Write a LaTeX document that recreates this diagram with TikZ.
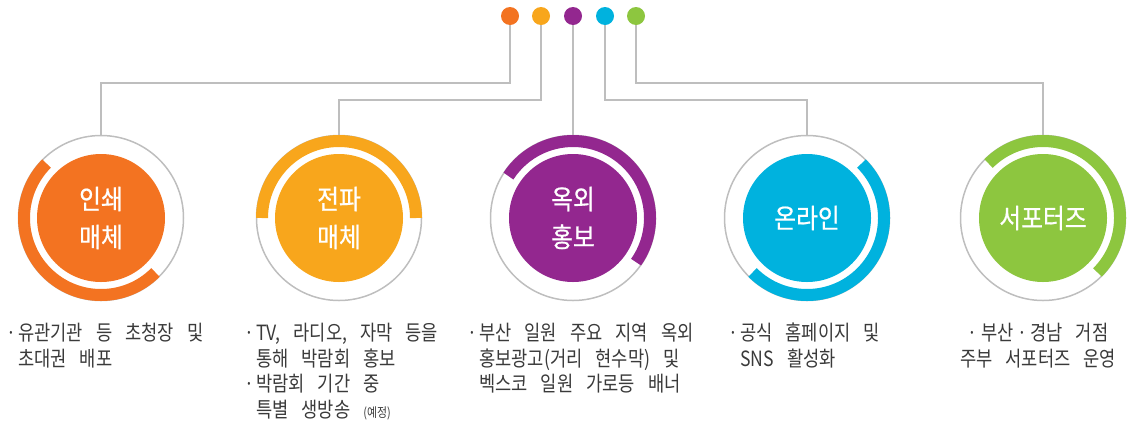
\documentclass[tikz,border=0pt]{standalone}
\usepackage{fontspec}
\setmainfont{Noto Sans CJK KR}[FakeStretch=0.84, WordSpace=3.3]
\newfontfamily\lblfont{Noto Sans CJK KR}[FakeStretch=0.88, FakeBold=0.6]
\definecolor{orgC}{HTML}{F37321}
\definecolor{ambC}{HTML}{F8A61C}
\definecolor{purC}{HTML}{93278F}
\definecolor{cyaC}{HTML}{00B2DE}
\definecolor{grnC}{HTML}{8DC63F}
\definecolor{lineC}{HTML}{BEBEBE}
\definecolor{txtC}{HTML}{3A3A3A}
\newcommand{\bul}{\makebox[12pt][l]{·}}
\newcommand{\ind}{\hspace*{12pt}}
\tikzset{
  dot/.style={circle, inner sep=0pt, minimum size=18pt},
  ring/.style={circle, draw=lineC, line width=1.5pt, inner sep=0pt, minimum size=165pt},
  core/.style={circle, inner sep=0pt, minimum size=128pt, text=white, align=center,
    font={\lblfont\fontsize{27}{38}\selectfont}},
  band/.style={line width=12pt},
  link/.style={draw=lineC, line width=2pt},
  desc/.style={inner sep=0pt, text=txtC, font={\fontsize{21}{25.5}\selectfont}}
}
\begin{document}
\begin{tikzpicture}[x=1pt, y=1pt]
  \useasboundingbox (0,0) rectangle (1134,-429);
  % dots on top
  \node[dot, fill=orgC] (d1) at (510,-16) {};
  \node[dot, fill=ambC] (d2) at (541,-16) {};
  \node[dot, fill=purC] (d3) at (573,-16) {};
  \node[dot, fill=cyaC] (d4) at (605,-16) {};
  \node[dot, fill=grnC] (d5) at (636,-16) {};
  % rings
  \node[ring] (r1) at (101,-218) {};
  \node[ring] (r2) at (339,-218) {};
  \node[ring] (r3) at (573,-218) {};
  \node[ring] (r4) at (807,-218) {};
  \node[ring] (r5) at (1043,-218) {};
  % connectors
  \draw[link] (d1.south) -- ++(0,-58) -| (r1.north);
  \draw[link] (d2.south) -- ++(0,-75) -| (r2.north);
  \draw[link] (d3.south) -- (r3.north);
  \draw[link] (d4.south) -- ++(0,-75) -| (r4.north);
  \draw[link] (d5.south) -- ++(0,-58) -| (r5.north);
  % coloured bands
  \draw[band, orgC] (r1.center) ++(135:77) arc[start angle=135, end angle=315, radius=77];
  \draw[band, ambC] (r2.center) ++(0:77) arc[start angle=0, end angle=180, radius=77];
  \draw[band, purC] (r3.center) ++(-35:77) arc[start angle=-35, end angle=147, radius=77];
  \draw[band, cyaC] (r4.center) ++(-135:77) arc[start angle=-135, end angle=45, radius=77];
  \draw[band, grnC] (r5.center) ++(-45:77) arc[start angle=-45, end angle=135, radius=77];
  % inner circles
  \node[core, fill=orgC] (c1) at (r1) {인쇄\\매체};
  \node[core, fill=ambC] (c2) at (r2) {전파\\매체};
  \node[core, fill=purC] (c3) at (r3) {옥외\\홍보};
  \node[core, fill=cyaC] (c4) at (r4) {온라인};
  \node[core, fill=grnC] (c5) at (r5) {서포터즈};
  % descriptions
  \node[desc, anchor=north west, align=left] (t1) at (6,-323)
    {\bul 유관기관 등 초청장 및\\\ind 초대권 배포};
  \node[desc, anchor=north west, align=left] (t2) at (244,-323)
    {\bul TV, 라디오, 자막 등을\\\ind 통해 박람회 홍보\\\bul 박람회 기간 중\\\ind 특별 생방송 {\fontsize{13}{13}\selectfont(예정)}};
  \node[desc, anchor=north west, align=left] (t3) at (467,-323)
    {\bul 부산 일원 주요 지역 옥외\\\ind 홍보광고(거리 현수막) 및\\\ind 벡스코 일원 가로등 배너};
  \node[desc, anchor=north west, align=left] (t4) at (728,-323)
    {\bul 공식 홈페이지 및\\\ind SNS 활성화};
  \node[desc, anchor=north, align=center] (t5) at (1038,-323)
    {·\,부산\,·\,경남 거점\\주부 서포터즈 운영};
\end{tikzpicture}
\end{document}
